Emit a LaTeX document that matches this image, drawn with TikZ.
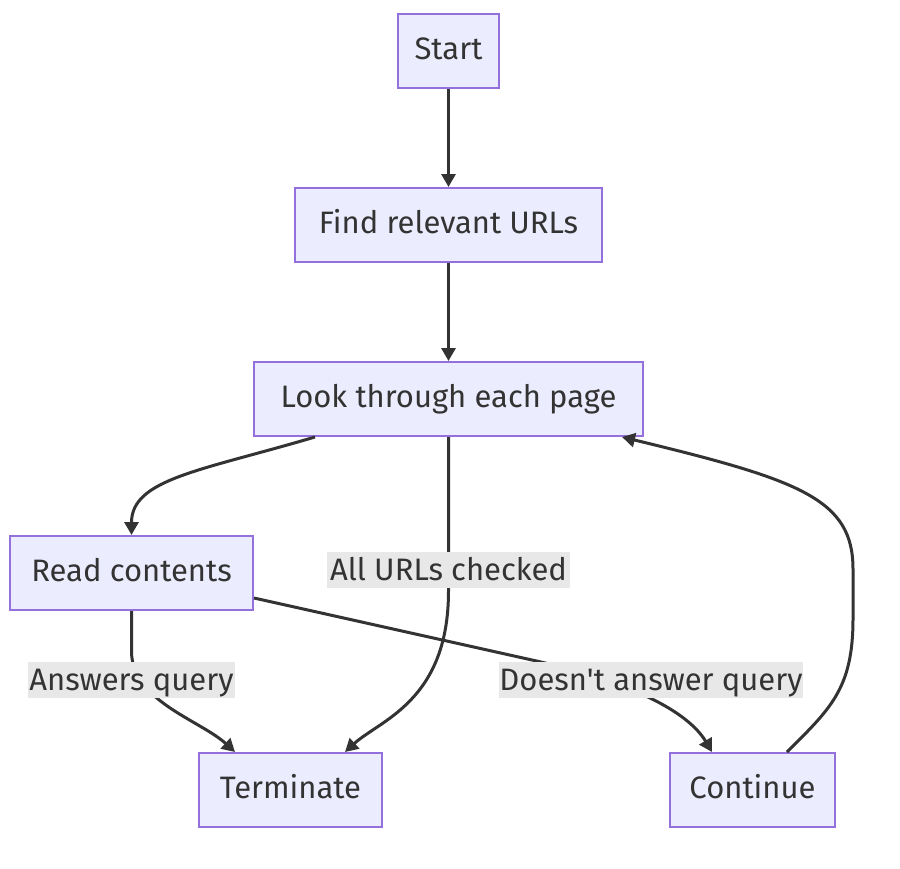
\documentclass[tikz,border=0pt]{standalone}
\usepackage{fontspec}
\newfontfamily\flowfont{Fira Sans}
\usetikzlibrary{arrows.meta}
\definecolor{nodefill}{HTML}{ECECFF}
\definecolor{nodeline}{HTML}{9370DB}
\definecolor{edgeline}{HTML}{333333}
\definecolor{labelfill}{HTML}{E8E8E8}

\begin{document}
\begin{tikzpicture}[x=1pt, y=-1pt,
    box/.style={draw=nodeline, fill=nodefill, line width=2pt, inner sep=0pt,
      minimum height=74pt, text height=24pt, text depth=8pt, text=edgeline,
      font=\flowfont\fontsize{31}{37}\selectfont},
    edgelabel/.style={fill=labelfill, inner sep=0pt, minimum height=36pt,
      text height=24pt, text depth=3pt, text=edgeline,
      font=\flowfont\fontsize{31}{37}\selectfont},
    flow/.style={draw=edgeline, line width=3pt, -{Triangle[length=13pt,width=14pt]}}]
    \useasboundingbox (0,0) rectangle (900,868);

    % Steps
    \node[box, minimum width=101pt] (start) at (448.5,51) {Start};
    \node[box, minimum width=307pt] (find) at (448.5,225) {Find relevant URLs};
    \node[box, minimum width=389pt] (look) at (448.5,399) {Look through each page};
    \node[box, minimum width=243pt] (read) at (131.5,573) {Read contents};
    \node[box, minimum width=183pt] (term) at (290.5,790) {Terminate};
    \node[box, minimum width=165pt] (cont) at (752.5,790) {Continue};

    % Straight links
    \draw[flow] (start) -- (find);
    \draw[flow] (find) -- (look);

    % Curved links
    \draw[flow] ([xshift=-133.5pt]look.south) .. controls +(-115,34) and +(0,-56) .. (read.north);
    \draw[flow] (look.south) -- ++(0,154) .. controls +(0,110) and +(35,-32) .. ([xshift=54.5pt]term.north);
    \draw[flow] (read.south) -- ++(0,40) .. controls +(0,50) and +(-35,-32) .. ([xshift=-55.5pt]term.north);
    \draw[flow] ([shift={(0,25)}]read.east) -- ++(287,64) .. controls +(100,23) and +(-22,-37) .. ([xshift=-40.5pt]cont.north);
    \draw[flow] ([xshift=34.5pt]cont.north) .. controls +(43,-43) and +(0,70) .. ++(66,-133)
      -- ++(0,-50) .. controls +(0,-70) and +(178,43) .. ([xshift=173.5pt]look.south);

    % Link labels
    \node[edgelabel, minimum width=243pt] (checked) at (448.5,570) {All URLs checked};
    \node[edgelabel, minimum width=207pt] (answers) at (131.5,680) {Answers query};
    \node[edgelabel, minimum width=304pt] (doesnt) at (651,680) {Doesn't answer query};
\end{tikzpicture}
\end{document}
